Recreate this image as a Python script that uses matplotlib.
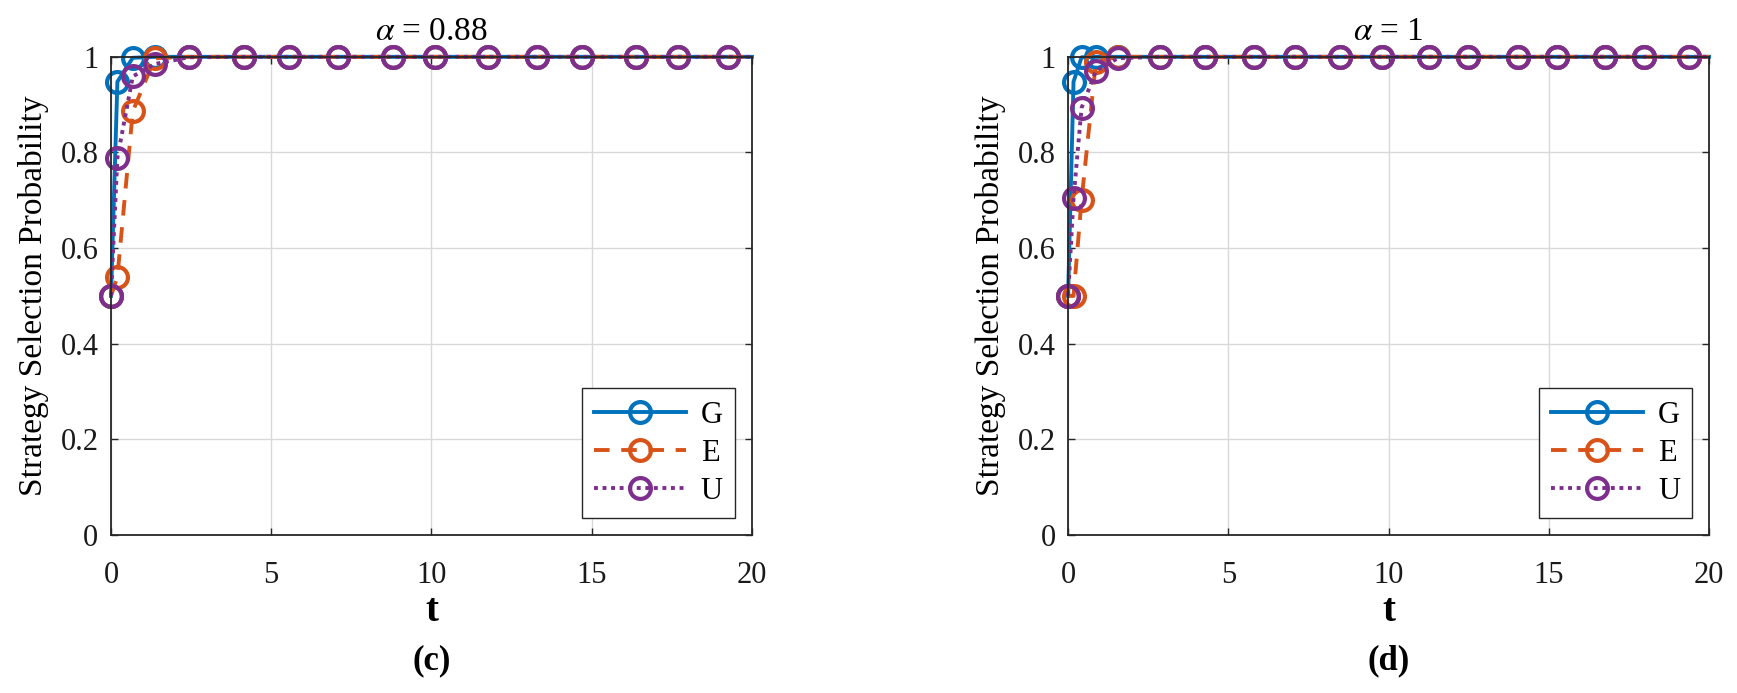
import matplotlib
matplotlib.use("Agg")
import matplotlib.pyplot as plt

plt.rcParams["font.family"] = ["Liberation Serif", "DejaVu Serif"]
plt.rcParams["mathtext.fontset"] = "stix"

# panel (c): alpha = 0.88
t_c = [0, 0.2, 0.68, 1.37, 2.42, 4.15, 5.56, 7.09, 8.81, 10.1, 11.75, 13.3, 14.69, 16.38, 17.70, 19.26, 20]
G_c = [0.5, 0.948, 0.998, 1.0, 1.0, 1.0, 1.0, 1.0, 1.0, 1.0, 1.0, 1.0, 1.0, 1.0, 1.0, 1.0, 1.0]
E_c = [0.5, 0.54, 0.886, 0.997, 1.0, 1.0, 1.0, 1.0, 1.0, 1.0, 1.0, 1.0, 1.0, 1.0, 1.0, 1.0, 1.0]
U_c = [0.5, 0.789, 0.959, 0.985, 0.999, 1.0, 1.0, 1.0, 1.0, 1.0, 1.0, 1.0, 1.0, 1.0, 1.0, 1.0, 1.0]

# panel (d): alpha = 1
t_d = [0, 0.17, 0.42, 0.87, 1.55, 2.88, 4.26, 5.81, 7.07, 8.49, 9.80, 11.26, 12.49, 14.05, 15.26, 16.74, 17.97, 19.38, 20]
G_d = [0.5, 0.948, 0.999, 1.0, 1.0, 1.0, 1.0, 1.0, 1.0, 1.0, 1.0, 1.0, 1.0, 1.0, 1.0, 1.0, 1.0, 1.0, 1.0]
E_d = [0.5, 0.5, 0.70, 0.99, 1.0, 1.0, 1.0, 1.0, 1.0, 1.0, 1.0, 1.0, 1.0, 1.0, 1.0, 1.0, 1.0, 1.0, 1.0]
U_d = [0.5, 0.704, 0.893, 0.971, 0.997, 1.0, 1.0, 1.0, 1.0, 1.0, 1.0, 1.0, 1.0, 1.0, 1.0, 1.0, 1.0, 1.0, 1.0]

labels = ["G", "E", "U"]
colors = ["#0072BD", "#D95319", "#7E2F8E"]
styles = ["-", (0, (4, 3)), (0, (1, 1.2))]

yticks = [0, 0.2, 0.4, 0.6, 0.8, 1]
yticklabels = ["0", "0.2", "0.4", "0.6", "0.8", "1"]
xticks = [0, 5, 10, 15, 20]

fig = plt.figure(figsize=(17.37, 6.93), dpi=100)

panels = [
    (0.0639, t_c, [G_c, E_c, U_c], r"$\alpha$ = 0.88", "(c)"),
    (0.6149, t_d, [G_d, E_d, U_d], r"$\alpha$ = 1", "(d)"),
]

for x0, t, series, title, tag in panels:
    ax = fig.add_axes([x0, 0.228, 0.369, 0.69])
    for y, lab, c, ls in zip(series, labels, colors, styles):
        ax.plot(t, y, linestyle=ls, color=c, lw=2.8, marker="o", markersize=15,
                markerfacecolor="none", markeredgewidth=3.0,
                markevery=list(range(len(t) - 1)), label=lab, clip_on=False)
    ax.set_xlim(0, 20)
    ax.set_ylim(0, 1)
    ax.set_xticks(xticks)
    ax.set_yticks(yticks)
    ax.set_yticklabels(yticklabels)
    ax.tick_params(direction="in", labelsize=22, top=True, right=True, length=5,
                   width=1, colors="#262626", pad=9)
    ax.tick_params(axis="x", pad=19)
    ax.tick_params(labelcolor="#1a1a1a")
    ax.grid(True, color="#d9d9d9", lw=1)
    ax.set_axisbelow(True)
    for s in ax.spines.values():
        s.set_color("#262626")
        s.set_linewidth(1.3)
    ax.set_title(title, fontsize=24, pad=12)
    ax.set_ylabel("Strategy Selection Probability", fontsize=24, labelpad=8)
    leg = ax.legend(loc="lower right", fontsize=22, handlelength=3.0, borderaxespad=0.55,
                    fancybox=False, edgecolor="#262626", framealpha=1, labelspacing=0.3,
                    borderpad=0.4, handletextpad=0.5)
    leg.get_frame().set_linewidth(1.0)
    cx = x0 + 0.369 / 2
    fig.text(cx, 0.118, "t", fontsize=28, fontweight="bold", ha="center", va="center")
    fig.text(cx, 0.046, tag, fontsize=25, fontweight="bold", ha="center", va="center")

fig.savefig("out.png", dpi=100)
